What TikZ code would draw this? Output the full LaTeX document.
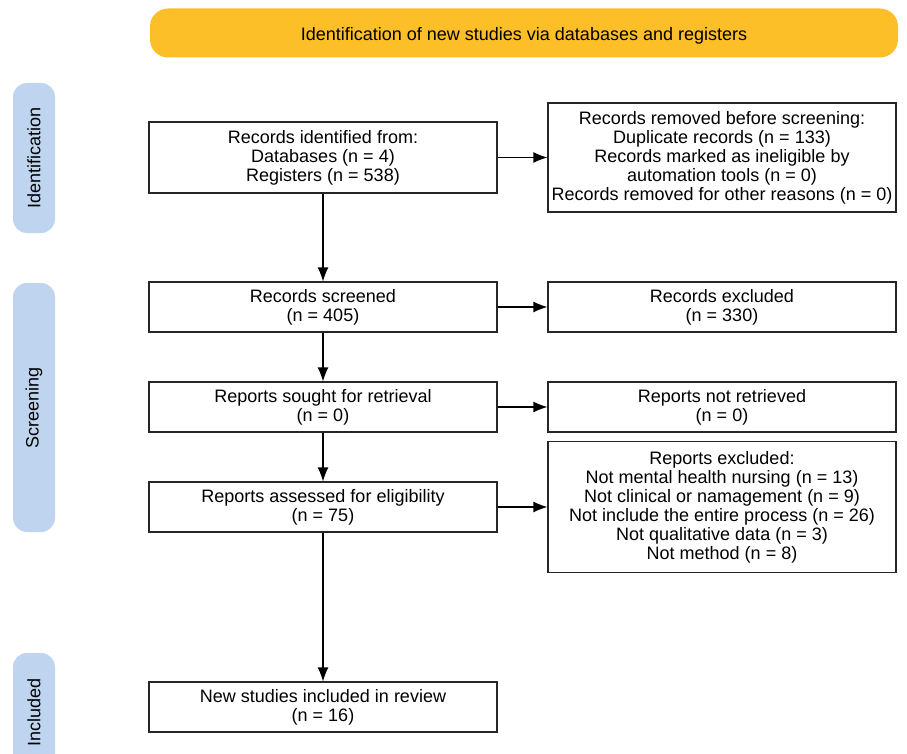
\documentclass[tikz,border=0pt]{standalone}
\usepackage{fontspec}
\setmainfont{Liberation Sans}
\usetikzlibrary{arrows.meta}
\definecolor{bannerorange}{HTML}{FDBF27}
\definecolor{phaseblue}{HTML}{BFD4EF}
\begin{document}
\begin{tikzpicture}[x=1pt,y=-1pt,
    >={Latex[length=14pt,width=11pt]},
    box/.style={draw=black!85,line width=1.2pt,minimum width=348pt,align=center,inner sep=0pt,font=\fontsize{18}{19}\selectfont},
    phase/.style={fill=phaseblue,rounded corners=14pt,minimum height=42pt,inner sep=0pt,rotate=90,font=\fontsize{18}{19}\selectfont},
    banner/.style={fill=bannerorange,rounded corners=18pt,minimum width=748pt,minimum height=49pt,text height=18pt,text depth=3pt,font=\fontsize{18}{19}\selectfont}]
            \useasboundingbox (0,0) rectangle (907,754);
            \node (Head) [banner] at (524,33) {Identification of new studies via databases and registers};

            \node (PId) [phase,minimum width=150pt] at (34,158) {Identification};
            \node (PScr) [phase,minimum width=249pt] at (34,407.5) {Screening};
            \node (PInc) [phase,minimum width=118pt] at (34,712) {Included};

            \node (Id) [box,minimum height=71pt] at (323,157.5) {Records identified from:\\Databases (n = 4)\\Registers (n = 538)};
            \node (Rem) [box,minimum height=109pt] at (722,157.5) {Records removed before screening:\\Duplicate records (n = 133)\\Records marked as ineligible by\\automation tools (n = 0)\\Records removed for other reasons (n = 0)};
            \node (Scr) [box,minimum height=50pt] at (323,307) {Records screened\\(n = 405)};
            \node (Exc) [box,minimum height=50pt] at (722,307) {Records excluded\\(n = 330)};
            \node (Sought) [box,minimum height=50pt] at (323,407) {Reports sought for retrieval\\(n = 0)};
            \node (NotRet) [box,minimum height=50pt] at (722,407) {Reports not retrieved\\(n = 0)};
            \node (Elig) [box,minimum height=50pt] at (323,507) {Reports assessed for eligibility\\(n = 75)};
            \node (RepExc) [box,minimum height=131pt] at (722,507) {Reports excluded:\\Not mental health nursing (n = 13)\\Not clinical or namagement (n = 9)\\Not include the entire process (n = 26)\\Not qualitative data (n = 3)\\Not method (n = 8)};
            \node (Inc) [box,minimum height=50pt] at (323,707) {New studies included in review\\(n = 16)};

            \path [->,line width=1.2pt] (Id) edge (Scr);
            \path [->,line width=1.2pt] (Scr) edge (Sought);
            \path [->,line width=1.2pt] (Sought) edge (Elig);
            \path [->,line width=1.2pt] (Elig) edge (Inc);
            \path [->,line width=1.2pt] (Id) edge (Rem);
            \path [->,line width=1.2pt] (Scr) edge (Exc);
            \path [->,line width=1.2pt] (Sought) edge (NotRet);
            \path [->,line width=1.2pt] (Elig) edge (RepExc);
        \end{tikzpicture}
\end{document}
